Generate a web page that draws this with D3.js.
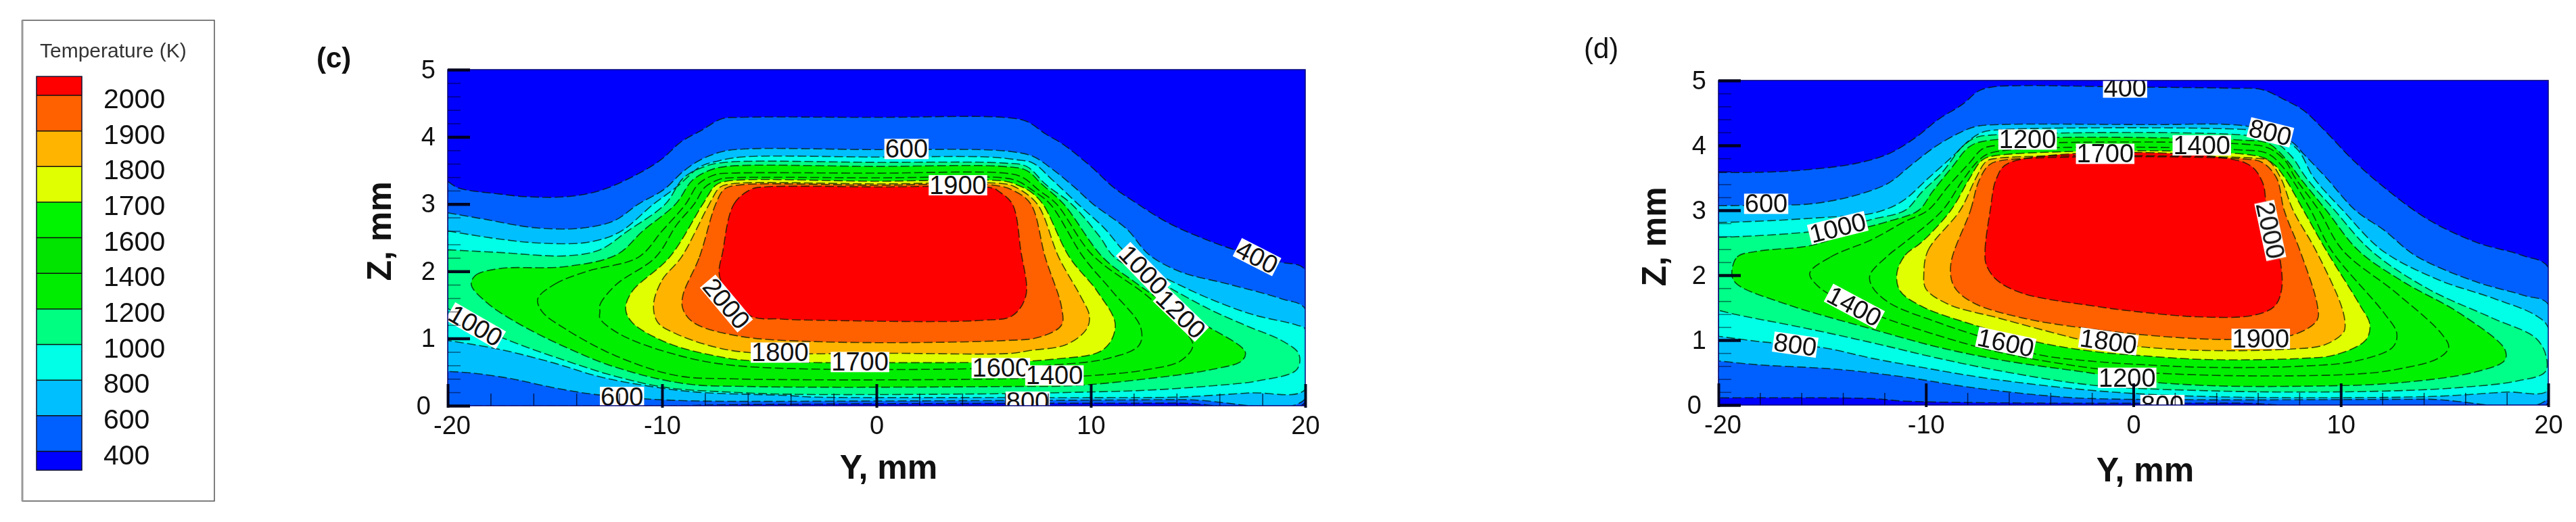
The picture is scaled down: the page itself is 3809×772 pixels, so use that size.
<!DOCTYPE html>
<html>
<head>
<meta charset="utf-8">
<title>Temperature contours</title>
<script src="https://cdn.jsdelivr.net/npm/d3@7"></script>
<style>
	html, body { margin: 0; padding: 0; background: #fff; }
	svg { display: block; filter: blur(0.7px); }
	text { font-family: "Liberation Sans", Arial, sans-serif; fill: #111; }
</style>
</head>
<body>
<svg id="chart" width="3809" height="772"></svg>
<script>
// contour levels, low to high, with the colour above each one
var levels = [400, 600, 800, 1000, 1200, 1400, 1600, 1700, 1800, 1900, 2000];
var bandColors = ["#0060ff", "#00bfff", "#00ffe6", "#00ff88", "#00f200", "#00ee00", "#00f200", "#e0ff00", "#ffb400", "#ff6000", "#ff0000"];
var legendColors = ["#ff0000", "#ff6000", "#ffb400", "#e0ff00", "#00f400", "#00e400", "#00ec00", "#00ff80", "#00ffe6", "#00bfff", "#0060ff"];
var coldColor = "#0000ff";

var yTicks = [-20, -10, 0, 10, 20];
var yMinor = [-18, -16, -14, -12, -8, -6, -4, -2, 2, 4, 6, 8, 12, 14, 16, 18];
var zTicks = [0, 1, 2, 3, 4, 5];
var zMinor = [0.2, 0.4, 0.6, 0.8, 1.2, 1.4, 1.6, 1.8, 2.2, 2.4, 2.6, 2.8, 3.2, 3.4, 3.6, 3.8, 4.2, 4.4, 4.6, 4.8];

// panel (c) isotherms as [Y, Z] in mm
var c400 = [[-20,3.34],[-19.5,3.24],[-17.6,3.15],[-16.35,3.11],[-14.45,3.11],[-12.9,3.2],[-11.3,3.42],[-10.05,3.66],[-9.1,3.93],[-8.2,4.09],[-7.2,4.27],[-6.3,4.29],[0,4.29],[5.9,4.29],[7,4.23],[7.9,4.04],[8.7,3.89],[10,3.56],[11.05,3.25],[12,3.04],[13.55,2.73],[15.15,2.5],[16.7,2.32],[18.8,2.14],[20,2.02],[20,0.05],[14,0.04],[0,0.03],[-8,0.01],[-9,0],[-20,0]];
var c600 = [[-20,2.87],[-18.2,2.77],[-16,2.65],[-13.8,2.64],[-12.25,2.75],[-11.1,3],[-9.9,3.22],[-9,3.49],[-8.2,3.66],[-7.2,3.78],[-6.15,3.82],[0,3.81],[4.8,3.81],[6.3,3.78],[7.3,3.71],[8.2,3.52],[9.2,3.26],[10.1,3],[11.7,2.62],[12.7,2.25],[14.2,1.99],[16.4,1.81],[18.9,1.59],[20,1.44],[20,0.1],[14.2,0.09],[0,0.07],[-8.3,0.07],[-10.7,0.1],[-13.2,0.17],[-15.1,0.27],[-17,0.4],[-18.85,0.485],[-20,0.51]];
var c800 = [[-20,2.6],[-17.6,2.48],[-15.7,2.42],[-13.5,2.43],[-12,2.58],[-10.4,3],[-9.3,3.26],[-8.2,3.56],[-7.4,3.64],[-6.3,3.7],[0,3.7],[5.25,3.7],[6.5,3.66],[7.3,3.61],[8.2,3.36],[9.4,3],[10.6,2.65],[11.85,2.21],[14.5,1.74],[17.4,1.37],[19.6,1.2],[20,1.14],[20,0.24],[17.4,0.19],[14.2,0.13],[11,0.12],[6.3,0.12],[-3.1,0.13],[-4,0.15],[-8.3,0.2],[-10.4,0.28],[-12.9,0.43],[-15.1,0.64],[-17.6,0.84],[-20,0.97]];
var c1000 = [[-20,2.32],[-17.6,2.28],[-14.45,2.23],[-12.9,2.32],[-11.6,2.6],[-9.85,3],[-9,3.39],[-8,3.56],[-7.1,3.62],[0,3.62],[5.9,3.61],[7,3.56],[7.9,3.29],[9.1,3],[10.4,2.52],[11.1,2.21],[12.8,1.91],[15.5,1.44],[17.4,1.17],[18.9,0.97],[19.7,0.77],[19.6,0.535],[17.8,0.37],[15.8,0.3],[12.6,0.23],[9.3,0.2],[6.3,0.18],[-4,0.17],[-6.7,0.2],[-9.8,0.27],[-12.15,0.435],[-14.5,0.67],[-17.3,0.99],[-18.7,1.19],[-20,1.45]];
var c1200 = [[-18.9,1.8],[-18.7,1.94],[-17.6,2.04],[-14.5,2.07],[-12.1,2.25],[-10.9,2.6],[-9.37,3],[-8.6,3.35],[-7.8,3.5],[-7,3.56],[0,3.56],[5.9,3.56],[7,3.5],[7.7,3.3],[8.73,3],[10.55,2.21],[12,1.85],[13.9,1.44],[15.5,1.17],[17.2,0.8],[17.05,0.67],[15.5,0.53],[12.6,0.4],[9.3,0.3],[6,0.285],[-5.9,0.285],[-9,0.33],[-12.15,0.57],[-14.5,0.87],[-16.8,1.24],[-18.2,1.54]];
var c1400 = [[-15.8,1.59],[-15,1.81],[-13.5,2],[-11.1,2.21],[-10,2.6],[-8.9,3],[-8.3,3.3],[-7.5,3.44],[-6.8,3.46],[0,3.46],[6,3.46],[6.8,3.4],[7.6,3.2],[8.4,3],[10.05,2.25],[12.6,1.64],[14.2,1.17],[14.76,0.9],[14.2,0.67],[12.6,0.535],[10.1,0.45],[6,0.4],[-6.7,0.4],[-9.35,0.45],[-12.15,0.74],[-14.5,1.14],[-15.6,1.4]];
var c1600 = [[-12.9,1.4],[-12.9,1.5],[-12.15,1.8],[-10.3,2.21],[-9.3,2.7],[-8.5,3],[-8,3.25],[-7.3,3.37],[-6.8,3.39],[0,3.39],[5.9,3.39],[6.6,3.34],[7.3,3.2],[8.1,3],[9.65,2.21],[11,1.7],[12.32,1.17],[12.25,0.9],[10.75,0.7],[8,0.6],[6,0.56],[-6.7,0.6],[-9.8,0.8],[-12,1.07],[-12.9,1.3]];
var c1700 = [[-11.7,1.44],[-11.4,1.7],[-9.65,2.21],[-8.1,3],[-7.5,3.28],[-7,3.34],[0,3.34],[6,3.34],[6.6,3.28],[7.2,3.18],[7.76,3],[9,2.21],[10.3,1.7],[11.14,1.2],[10.6,0.84],[8.2,0.69],[0.7,0.64],[-5.9,0.67],[-7.5,0.74],[-9.8,0.94],[-11.4,1.24]];
var c1800 = [[-10.4,1.5],[-10,1.87],[-9.1,2.21],[-7.8,3],[-7.3,3.25],[-6.8,3.3],[0,3.3],[6,3.3],[6.5,3.25],[7.5,3],[8.5,2.21],[9.5,1.64],[9.93,1.34],[9.8,1.14],[8.86,0.91],[7.13,0.82],[6.34,0.78],[0.7,0.78],[-5.9,0.79],[-7.5,0.87],[-9.35,1.07],[-10.2,1.24]];
var c1900 = [[-9.03,1.64],[-8.26,2.21],[-7.5,3],[-7.1,3.22],[-6.5,3.28],[0,3.28],[5.5,3.28],[6.4,3.2],[7.2,3],[7.87,2.21],[8.63,1.47],[8.63,1.2],[7.6,1.02],[6.03,0.97],[-2.5,0.95],[-6.5,1.04],[-8.55,1.24],[-9.03,1.44]];
var c2000 = [[-7.16,2.31],[-6.65,3],[-5.85,3.22],[-5.2,3.255],[0,3.255],[5.4,3.24],[5.7,3.19],[6.34,3],[6.73,2.31],[6.97,1.64],[6.34,1.34],[4.92,1.27],[-2.5,1.27],[-4.5,1.29],[-5.9,1.34],[-7.3,1.9]];

// panel (d) isotherms
var d400 = [[-20,3.58],[-17.5,3.59],[-15.9,3.62],[-13.4,3.72],[-11.8,3.87],[-10.5,4.12],[-9.4,4.4],[-8.25,4.63],[-7.45,4.84],[-6.8,4.9],[-5.5,4.92],[-0.3,4.9],[4.7,4.88],[6.2,4.86],[7.3,4.7],[8.2,4.54],[9.25,4.22],[10.6,3.77],[12.1,3.35],[14.2,2.86],[16.5,2.51],[18.8,2.3],[20,2.12],[20,0.03],[5,0.03],[-4.5,0.03],[-11,0.06],[-12.6,0.1],[-20,0.11]];
var d600 = [[-20,3.07],[-17.7,3.08],[-15.5,3.1],[-13.4,3.23],[-11.8,3.42],[-10.7,3.7],[-9.55,3.98],[-8.4,4.19],[-7.6,4.29],[-6.5,4.32],[1.06,4.32],[4.7,4.32],[6.2,4.25],[7.65,4.05],[8.2,3.87],[9.3,3.5],[10.7,3],[12.1,2.69],[13.6,2.3],[16.5,1.9],[18.8,1.69],[20,1.55],[20,0.1],[14,0.09],[3.6,0.08],[-2,0.1],[-3.7,0.13],[-7.8,0.27],[-11,0.43],[-14.25,0.55],[-18.1,0.62],[-20,0.68]];
var d800 = [[-20,2.81],[-17.5,2.84],[-14.9,2.89],[-12.8,2.94],[-11.8,3.03],[-11,3.17],[-9.9,3.49],[-8.75,3.82],[-7.9,4.08],[-7.3,4.2],[-6.5,4.24],[5.6,4.24],[6.6,4.19],[7.9,3.94],[8.7,3.5],[10.1,3],[12,2.38],[14.7,1.93],[17.3,1.65],[19.4,1.38],[20,1.19],[20,0.23],[18,0.2],[14.2,0.13],[3.6,0.13],[-1.8,0.22],[-7,0.41],[-10.2,0.58],[-12.6,0.72],[-14.9,0.88],[-18.1,0.98],[-20,1.06]];
var d1000 = [[-20,2.58],[-17.5,2.62],[-15.5,2.67],[-14.25,2.72],[-12.6,2.86],[-11,3],[-10.2,3.28],[-9.2,3.59],[-8.25,3.98],[-7.6,4.12],[-6.8,4.16],[5.3,4.16],[6.67,4.08],[7.6,3.84],[8.33,3.5],[9.7,3],[11.45,2.38],[14.2,1.79],[17.3,1.34],[19.4,1.03],[19.9,0.75],[19.85,0.51],[18.5,0.37],[15.75,0.27],[12.7,0.22],[8.2,0.2],[3.6,0.22],[-1.8,0.3],[-6.15,0.51],[-9.4,0.72],[-12.6,0.96],[-15.9,1.19],[-19.1,1.39],[-20,1.46]];
var d1200 = [[-19.35,2],[-19.1,2.28],[-18.1,2.37],[-15.5,2.46],[-13.4,2.69],[-11.8,2.83],[-10.35,3],[-9.7,3.28],[-8.75,3.66],[-7.9,3.98],[-7.1,4.07],[5.3,4.08],[6.5,4.03],[7.4,3.77],[8.03,3.5],[9.3,3],[10.85,2.38],[13,1.9],[15.75,1.41],[17.9,0.86],[17.9,0.69],[16.5,0.51],[12.7,0.34],[8.2,0.29],[3.6,0.3],[-0.3,0.39],[-1.8,0.48],[-6.15,0.68],[-9.4,0.89],[-12.6,1.17],[-16.7,1.55],[-19.1,1.86]];
var d1400 = [[-15.6,2.03],[-14.6,2.28],[-12.6,2.55],[-11,2.83],[-9.9,3],[-8.9,3.38],[-7.9,3.73],[-7.3,3.94],[-6.6,4],[5.3,4.02],[6.5,3.96],[7.3,3.77],[7.8,3.5],[8.94,3],[10.1,2.38],[12.7,1.72],[14.85,1.1],[15.2,0.89],[14.7,0.72],[12.7,0.55],[10.9,0.48],[5.15,0.45],[0,0.51],[-1.8,0.56],[-6.15,0.79],[-9.4,1.07],[-13.45,1.52],[-15.2,1.83]];
var d1600 = [[-12.7,2],[-11.8,2.31],[-11,2.51],[-9.2,3],[-8.25,3.45],[-7.45,3.77],[-6.8,3.89],[5.15,3.93],[6.5,3.87],[7.3,3.63],[7.6,3.5],[8.55,3],[9.55,2.38],[12.1,1.41],[12.7,1.1],[12.5,0.89],[10.75,0.68],[8.2,0.6],[3.6,0.58],[0,0.63],[-1.8,0.67],[-4.5,0.77],[-6.15,0.93],[-9.4,1.27],[-11.8,1.58],[-12.6,1.83]];
var d1700 = [[-11.4,2.03],[-11,2.31],[-10.2,2.51],[-8.8,3],[-7.9,3.49],[-7.3,3.77],[-6.7,3.84],[6.06,3.83],[6.8,3.7],[7.3,3.5],[8.2,3],[9.3,2.38],[10.9,1.55],[11.4,1.24],[11.2,1],[9.7,0.77],[8.2,0.72],[3.6,0.7],[0,0.77],[-1.8,0.82],[-4.5,0.96],[-7.75,1.24],[-10.2,1.52],[-11.25,1.76]];
var d1800 = [[-10.1,2.03],[-9.9,2.38],[-8.35,3],[-7.6,3.49],[-7.1,3.75],[-6.6,3.8],[6,3.8],[6.5,3.77],[7.1,3.5],[7.7,3],[8.8,2.38],[10,1.55],[10.2,1.27],[10.15,1.13],[9.24,0.93],[7.4,0.86],[3.5,0.84],[0.6,0.89],[-2.4,1],[-3.7,1.1],[-6.5,1.34],[-8.9,1.55],[-10,1.79]];
var d1900 = [[-8.8,2.17],[-7.85,3],[-7.45,3.45],[-6.95,3.7],[-6.3,3.77],[5.3,3.79],[6.2,3.74],[6.9,3.5],[7.27,3],[8.03,2.38],[8.86,1.55],[8.86,1.31],[7.7,1.08],[4.85,1.01],[1.67,1.05],[-2,1.17],[-5.33,1.34],[-7.75,1.58],[-8.65,1.83]];
var d2000 = [[-7.1,2.17],[-7.15,2.38],[-6.9,3],[-6.6,3.49],[-6,3.73],[5.4,3.73],[6.2,3.45],[6.44,3.03],[7,2.38],[7.15,1.79],[6.8,1.52],[5.75,1.38],[3.03,1.36],[-0.15,1.45],[-1.8,1.52],[-5.33,1.72],[-6.6,1.93]];

// contour labels: text, Y, Z, tilt in degrees
var cLabels = [["600",1.4,3.82,0],["1900",3.8,3.28,0],["400",17.75,2.21,27],["1000",12.45,2.02,46],["1200",14.2,1.36,44],["2000",-7,1.52,50],["1000",-18.7,1.19,30],["1800",-4.5,0.79,0],["600",-11.87,0.13,0],["1700",-0.77,0.65,0],["1600",5.8,0.56,0],["1400",8.3,0.45,0],["800",7.05,0.06,0]];
var dLabels = [["400",-0.4,4.89,0],["1200",-5.1,4.09,0],["1700",-1.36,3.87,0],["1400",3.3,4,0],["800",6.6,4.2,14],["2000",6.6,2.69,78],["600",-17.7,3.1,0],["1000",-14.25,2.73,-14],["1400",-13.45,1.52,28],["800",-16.3,0.93,8],["1600",-6.15,0.96,12],["1800",-1.2,0.98,8],["1900",6.14,1.02,0],["1200",-0.3,0.42,0],["800",1.4,0,0]];

var svg = d3.select('#chart');

var drawPanel = function(id, box, contours, labels) {
	var x = d3.scaleLinear().domain([-20, 20]).range([box.left, box.right]);
	var z = d3.scaleLinear().domain([0, 5]).range([box.bottom, box.top]);

	var g = svg.append('g').attr('class', 'panel-' + id);

	svg.append('clipPath').attr('id', 'clip-' + id)
		.append('rect')
		.attr('x', box.left).attr('y', box.top)
		.attr('width', box.right - box.left).attr('height', box.bottom - box.top);

	var plot = g.append('g').attr('clip-path', 'url(#clip-' + id + ')');

	plot.append('rect')
		.attr('x', box.left).attr('y', box.top)
		.attr('width', box.right - box.left).attr('height', box.bottom - box.top)
		.attr('fill', coldColor);

	// painter's order: each isotherm fills everything hotter than itself
	var open = d3.line().x(function(d) { return x(d[0]); }).y(function(d) { return z(d[1]); })
		.curve(d3.curveCatmullRom.alpha(0.5));
	var closed = d3.line().x(function(d) { return x(d[0]); }).y(function(d) { return z(d[1]); })
		.curve(d3.curveCatmullRomClosed.alpha(0.5));

	var pathOf = function(pts) {
		return pts[0][0] === -20 ? open(pts) + 'Z' : closed(pts);
	};

	plot.selectAll('path.band').data(contours).enter().append('path')
		.attr('class', 'band')
		.attr('d', pathOf)
		.attr('fill', function(d, i) { return bandColors[i]; });

	plot.selectAll('path.iso').data(contours).enter().append('path')
		.attr('class', 'iso')
		.attr('d', pathOf)
		.attr('fill', 'none')
		.attr('stroke', '#001a00')
		.attr('stroke-opacity', 0.75)
		.attr('stroke-width', 1.6)
		.attr('stroke-dasharray', '13 5');

	// contour labels on white tags
	labels.forEach(function(l) {
		var tag = plot.append('g')
			.attr('transform', 'translate(' + x(l[1]) + ' ' + z(l[2]) + ') rotate(' + l[3] + ')');
		var rect = tag.append('rect').attr('fill', '#fff');
		var text = tag.append('text')
			.attr('text-anchor', 'middle')
			.attr('y', 13)
			.attr('font-size', 38)
			.text(l[0]);
		var b = text.node().getBBox();
		rect.attr('x', b.x - 1).attr('width', b.width + 2).attr('y', -15).attr('height', 30);
	});

	g.append('rect')
		.attr('x', box.left).attr('y', box.top)
		.attr('width', box.right - box.left).attr('height', box.bottom - box.top)
		.attr('fill', 'none').attr('stroke', '#000078').attr('stroke-width', 1.5);

	// minor ticks first, then the labelled major ticks, all pointing inwards
	var tickStyle = function(sel, width, opacity) {
		sel.select('.domain').remove();
		sel.selectAll('.tick line').attr('stroke', '#000018').attr('stroke-width', width).attr('stroke-opacity', opacity);
		sel.selectAll('.tick text').attr('font-size', 38).attr('fill', '#111');
	};

	g.append('g').attr('transform', 'translate(0,' + box.bottom + ')')
		.call(d3.axisBottom(x).tickValues(yMinor).tickSize(-18).tickFormat(''))
		.call(tickStyle, 1.6, 0.7);
	g.append('g').attr('transform', 'translate(' + box.left + ',0)')
		.call(d3.axisLeft(z).tickValues(zMinor).tickSize(-19).tickFormat(''))
		.call(tickStyle, 1.6, 0.5);

	var xAxis = g.append('g').attr('transform', 'translate(0,' + box.bottom + ')')
		.call(d3.axisBottom(x).tickValues(yTicks).tickSize(-32).tickPadding(6).tickFormat(String))
		.call(tickStyle, 4, 0.95);
	xAxis.selectAll('.tick text').attr('dy', '0.95em');
	xAxis.selectAll('.tick line').attr('y1', 3);

	var zAxis = g.append('g').attr('transform', 'translate(' + box.left + ',0)')
		.call(d3.axisLeft(z).tickValues(zTicks).tickSize(-33).tickPadding(18).tickFormat(String))
		.call(tickStyle, 4.5, 0.95);

	// the corner labels crowd each other, ease them apart
	xAxis.selectAll('.tick text').filter(function(d) { return d === -20; }).attr('dx', 6);
	zAxis.selectAll('.tick text').filter(function(d) { return d === 0; }).attr('x', -25);

	g.append('text')
		.attr('x', box.titleX).attr('y', box.titleY)
		.attr('text-anchor', 'middle')
		.attr('font-size', 50).attr('font-weight', 'bold')
		.text('Y, mm');

	g.append('text')
		.attr('transform', 'translate(' + box.zTitleX + ' ' + box.zTitleY + ') rotate(-90)')
		.attr('text-anchor', 'middle')
		.attr('font-size', 50).attr('font-weight', 'bold')
		.text('Z, mm');

	g.append('text')
		.attr('x', box.tagX).attr('y', box.tagY)
		.attr('font-size', 42).attr('font-weight', box.tagWeight)
		.text('(' + id + ')');
};

drawPanel('c',
	{ left: 662, right: 1930, top: 103, bottom: 600, titleX: 1314, titleY: 708, zTitleX: 578, zTitleY: 342, tagX: 468, tagY: 100, tagWeight: 'bold' },
	[c400, c600, c800, c1000, c1200, c1400, c1600, c1700, c1800, c1900, c2000], cLabels);
drawPanel('d',
	{ left: 2541, right: 3768, top: 119, bottom: 599, titleX: 3172, titleY: 712, zTitleX: 2463, zTitleY: 350, tagX: 2342, tagY: 86, tagWeight: 'normal' },
	[d400, d600, d800, d1000, d1200, d1400, d1600, d1700, d1800, d1900, d2000], dLabels);

// legend box and colour bar
var legend = svg.append('g').attr('class', 'legend');

legend.append('rect')
	.attr('x', 33).attr('y', 30).attr('width', 284).attr('height', 711)
	.attr('fill', '#fff').attr('stroke', '#555').attr('stroke-width', 1.5);
legend.append('line')
	.attr('x1', 33).attr('x2', 33).attr('y1', 30).attr('y2', 741)
	.attr('stroke', '#999').attr('stroke-width', 3);

legend.append('text')
	.attr('x', 59).attr('y', 85)
	.attr('font-size', 30).style('fill', '#333')
	.text('Temperature (K)');

var legendLevels = levels.slice().reverse();
var legendY = d3.scalePoint().domain(legendLevels).range([141, 667.5]);
var step = legendY.step();
var barEnd = step * 0.53;

var swatchTop = function(i) { return i === 0 ? legendY(legendLevels[0]) - barEnd : legendY(legendLevels[i - 1]); };

legend.selectAll('rect.swatch').data(legendColors).enter().append('rect')
	.attr('class', 'swatch')
	.attr('x', 54).attr('width', 67)
	.attr('y', function(d, i) { return swatchTop(i); })
	.attr('height', function(d, i) { return legendY(legendLevels[i]) - swatchTop(i); })
	.attr('fill', function(d) { return d; });

legend.append('rect')
	.attr('x', 54).attr('width', 67)
	.attr('y', legendY(400)).attr('height', barEnd)
	.attr('fill', coldColor);

legend.append('rect')
	.attr('x', 54).attr('width', 67)
	.attr('y', legendY(2000) - barEnd).attr('height', legendY(400) - legendY(2000) + barEnd * 2)
	.attr('fill', 'none').attr('stroke', '#101030').attr('stroke-width', 1.5);

legend.selectAll('line.level').data(legendLevels).enter().append('line')
	.attr('class', 'level')
	.attr('x1', 54).attr('x2', 121)
	.attr('y1', function(d) { return legendY(d); })
	.attr('y2', function(d) { return legendY(d); })
	.attr('stroke', '#101010').attr('stroke-width', 1.5);

legend.selectAll('text.level').data(legendLevels).enter().append('text')
	.attr('class', 'level')
	.attr('x', 153)
	.attr('y', function(d) { return legendY(d) + 19; })
	.attr('font-size', 41)
	.text(function(d) { return d; });
</script>
</body>
</html>
